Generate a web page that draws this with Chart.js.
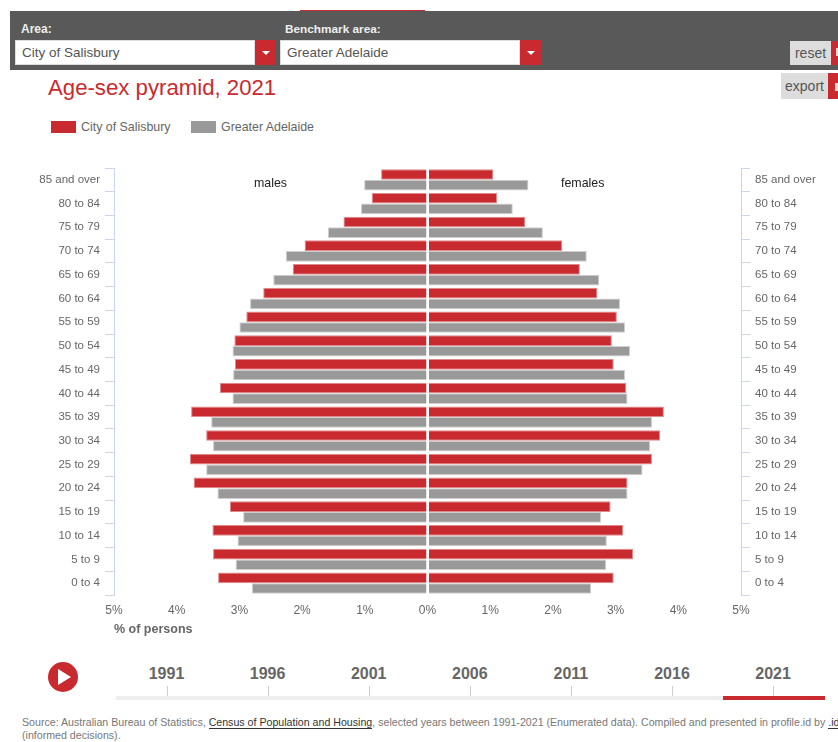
<!DOCTYPE html>
<html>
<head>
<meta charset="utf-8">
<title>Age-sex pyramid, 2021</title>
<script src="https://cdn.jsdelivr.net/npm/chart.js@4"></script>
<style>
  html, body { margin: 0; padding: 0; background: #fff; }
  body { width: 838px; height: 742px; position: relative; overflow: hidden; font-family: "Liberation Sans", Arial, sans-serif; color: #666; }
  .abs { position: absolute; white-space: nowrap; }
  .box { position: absolute; box-sizing: border-box; background: #fff; border: 1px solid #ddd; color: #555; font-size: 13.5px; line-height: 23px; padding-left: 6px; }
  .caret { position: absolute; background: #c92a2f; }
  .caret:after { content: ""; position: absolute; left: 7px; top: 11px; border-left: 4px solid transparent; border-right: 4px solid transparent; border-top: 4px solid #fff; }
  #pyramid { position: absolute; left: 0; top: 150px; }
</style>
</head>
<body>
  <div class="abs" style="left:300px;top:10px;width:125px;height:1px;background:#c92a2f"></div>
  <div class="abs" style="left:10px;top:11px;width:828px;height:59px;background:#595959"></div>
  <div class="abs" style="left:21px;top:22px;font-size:12px;font-weight:bold;color:#eee">Area:</div>
  <div class="abs" style="left:285px;top:22px;font-size:11.8px;font-weight:bold;color:#eee">Benchmark area:</div>
  <div class="box" style="left:15px;top:40px;width:240px;height:25px">City of Salisbury</div>
  <div class="caret" style="left:255px;top:40px;width:21px;height:25px"></div>
  <div class="box" style="left:280px;top:40px;width:240px;height:25px">Greater Adelaide</div>
  <div class="caret" style="left:520px;top:40px;width:21px;height:25px"></div>
  <div class="abs" style="left:790px;top:41px;width:41px;height:24px;background:#ddd;font-size:14px;line-height:24px;text-align:center;color:#555">reset</div>
  <div class="abs" style="left:831px;top:41px;width:7px;height:24px;background:#c92a2f"></div>
  <div class="abs" style="left:836px;top:48px;width:2px;height:8px;background:#f3d5d6"></div>
  <div class="abs" style="left:781px;top:73px;width:47px;height:26px;background:#ddd;font-size:14px;line-height:26px;text-align:center;color:#555">export</div>
  <div class="abs" style="left:828px;top:73px;width:10px;height:26px;background:#c92a2f"></div>
  <div class="abs" style="left:835px;top:83px;width:3px;height:8px;background:#f3d5d6"></div>
  <div class="abs" style="left:48px;top:75px;font-size:22.2px;color:#c92a2f">Age-sex pyramid, 2021</div>

  <div class="abs" style="left:51px;top:121px;width:25px;height:12px;background:#c92a2f"></div>
  <div class="abs" style="left:81px;top:120px;font-size:12.4px">City of Salisbury</div>
  <div class="abs" style="left:191px;top:121px;width:25px;height:12px;background:#999"></div>
  <div class="abs" style="left:221px;top:120px;font-size:12.4px">Greater Adelaide</div>

  <canvas id="pyramid" width="838" height="487"></canvas>
  <div class="abs" style="left:254px;top:176px;font-size:12.4px;color:#222">males</div>
  <div class="abs" style="left:561px;top:176px;font-size:12.4px;color:#222">females</div>

  <svg class="abs" style="left:48px;top:662px" width="30" height="30"><circle cx="15" cy="15" r="15" fill="#c92a2f"/><path d="M10 7 L23 15 L10 23 Z" fill="#fff"/></svg>
  <div id="timeline"></div>

  <div class="abs" style="left:22px;top:716px;font-size:10.63px;color:#777">Source: Australian Bureau of Statistics, <span style="color:#333;border-bottom:1px solid #333">Census of Population and Housing</span>, selected years between 1991-2021 (Enumerated data). Compiled and presented in profile.id by <span style="color:#333;border-bottom:1px solid #333">.id</span></div>
  <div class="abs" style="left:22px;top:729px;font-size:10.63px;color:#777">(informed decisions).</div>

<script>
const ageGroups = ['85 and over', '80 to 84', '75 to 79', '70 to 74', '65 to 69', '60 to 64', '55 to 59', '50 to 54', '45 to 49', '40 to 44', '35 to 39', '30 to 34', '25 to 29', '20 to 24', '15 to 19', '10 to 14', '5 to 9', '0 to 4'];
// % of persons
const cityMales = [0.74, 0.89, 1.34, 1.96, 2.15, 2.62, 2.89, 3.08, 3.07, 3.31, 3.77, 3.53, 3.79, 3.73, 3.15, 3.43, 3.42, 3.34];
const benchMales = [1.01, 1.06, 1.59, 2.26, 2.46, 2.83, 3.00, 3.11, 3.10, 3.11, 3.45, 3.42, 3.53, 3.35, 2.94, 3.03, 3.06, 2.80];
const cityFemales = [1.05, 1.11, 1.56, 2.15, 2.43, 2.71, 3.02, 2.94, 2.97, 3.17, 3.77, 3.71, 3.58, 3.19, 2.92, 3.12, 3.28, 2.97];
const benchFemales = [1.61, 1.36, 1.84, 2.54, 2.74, 3.07, 3.15, 3.23, 3.15, 3.19, 3.58, 3.55, 3.43, 3.19, 2.77, 2.86, 2.85, 2.61];
const censusYears = ['1991', '1996', '2001', '2006', '2011', '2016', '2021'];

const RED = '#c92a2f';
const GREY = '#999999';
const AXIS = '#ccd6eb';
const negate = (list) => list.map((v) => -v);

function barSet(label, values, color, edge, stack) {
  return { label, data: values, stack, backgroundColor: color, borderColor: edge, borderWidth: 1, categoryPercentage: 0.9, barPercentage: 1 };
}

function ageAxis(position, width) {
  return {
    type: 'category',
    position,
    offset: true,
    grid: { offset: true, drawOnChartArea: false, tickColor: AXIS, tickLength: 9 },
    border: { color: AXIS },
    ticks: { autoSkip: false, color: '#666', padding: 5, font: { size: 11.5 } },
    afterFit(scale) { scale.width = width; },
  };
}

Chart.defaults.font.family = '"Liberation Sans", Arial, sans-serif';
Chart.defaults.animation = false;

new Chart(document.getElementById('pyramid').getContext('2d'), {
  type: 'bar',
  data: {
    labels: ageGroups,
    datasets: [
      barSet('City of Salisbury', negate(cityMales), RED, '#e08a8d', 'city'),
      barSet('Greater Adelaide', negate(benchMales), GREY, '#cfcfcf', 'bench'),
      barSet('City of Salisbury', cityFemales, RED, '#e08a8d', 'city'),
      barSet('Greater Adelaide', benchFemales, GREY, '#cfcfcf', 'bench'),
    ],
  },
  options: {
    indexAxis: 'y',
    responsive: false,
    layout: { padding: { top: 18, bottom: 0, left: 0, right: 0 } },
    plugins: { legend: { display: false }, tooltip: { enabled: false } },
    scales: {
      x: {
        type: 'linear',
        stacked: true,
        min: -5,
        max: 5,
        // solo la línea del cero, encima de las barras
        grid: { z: 1, drawTicks: false, lineWidth: 2, color: (ctx) => (ctx.tick && ctx.tick.value === 0 ? '#ffffff' : 'transparent') },
        border: { display: false },
        ticks: { stepSize: 1, color: '#666', padding: 8, font: { size: 12 }, callback: (v) => Math.abs(v) + '%' },
        title: { display: true, text: '% of persons', align: 'start', color: '#666', font: { size: 12.5, weight: 'bold' }, padding: { top: 4, bottom: 0 } },
        afterFit(scale) { scale.height = 42; },
      },
      y: ageAxis('left', 114),
      yRight: ageAxis('right', 97),
    },
  },
});

// barra de años: un tick por censo, el último marcado en rojo
const timeline = document.getElementById('timeline');
timeline.insertAdjacentHTML('beforeend', '<div class="abs" style="left:116px;top:696px;width:709px;height:4px;background:#eee"></div><div class="abs" style="left:723px;top:696px;width:102px;height:4px;background:#c92a2f"></div>');
censusYears.forEach((year, i) => {
  const x = 166.5 + i * 101.1;
  timeline.insertAdjacentHTML('beforeend',
    `<div class="abs" style="left:${x - 30}px;top:665px;width:60px;text-align:center;font-size:16px;font-weight:bold;color:#666">${year}</div>` +
    `<div class="abs" style="left:${x}px;top:686px;width:1px;height:10px;background:#ccc"></div>`);
});
</script>
</body>
</html>
